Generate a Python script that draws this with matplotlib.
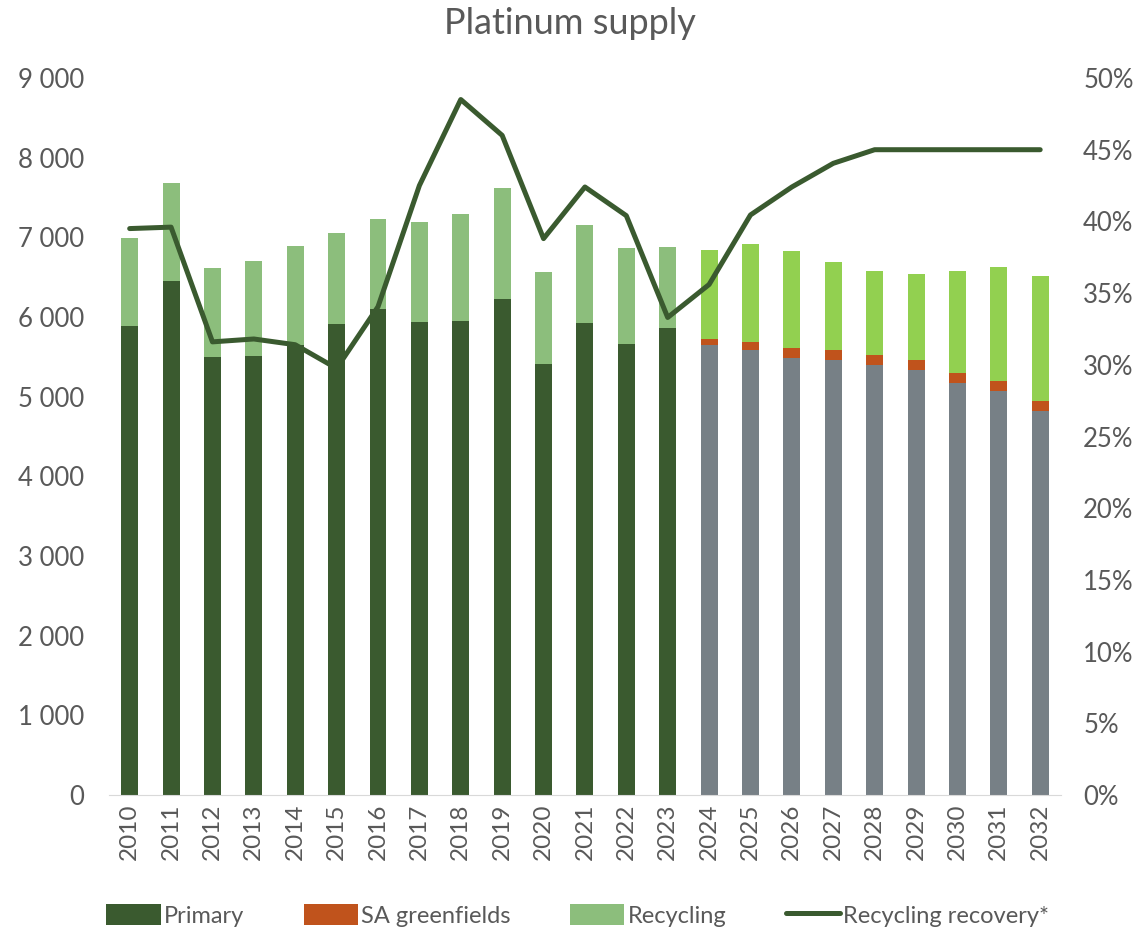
import matplotlib.pyplot as plt
from matplotlib.ticker import FuncFormatter, PercentFormatter
import numpy as np

# Platinum supply, koz, actuals to 2023 and outlook from 2024
years = [str(y) for y in range(2010, 2033)]
primary = [5890, 6455, 5500, 5510, 5650, 5910, 6100, 5940, 5950, 6230, 5410, 5920, 5660, 5860,
           5650, 5590, 5490, 5460, 5400, 5330, 5170, 5070, 4820]
sa_greenfields = [0] * 14 + [70, 100, 120, 130, 120, 130, 130, 130, 130]
recycling = [1100, 1225, 1110, 1190, 1240, 1150, 1130, 1250, 1340, 1390, 1160, 1230, 1200, 1020,
             1120, 1230, 1220, 1100, 1060, 1080, 1280, 1430, 1560]
recovery = [0.395, 0.396, 0.316, 0.318, 0.314, 0.2975, 0.3405, 0.425, 0.485, 0.460, 0.388, 0.424,
            0.404, 0.333, 0.356, 0.4045, 0.424, 0.4405, 0.45, 0.45, 0.45, 0.45, 0.45]
n_hist = 14

plt.rcParams['font.family'] = ['Lato', 'DejaVu Sans']
txt = '#595959'

dark_green = '#3A5A2F'
light_green = '#8CBE7C'
bright_green = '#92D050'
grey = '#778086'
orange = '#C0531C'

primary_col = [dark_green] * n_hist + [grey] * (len(years) - n_hist)
recycling_col = [light_green] * n_hist + [bright_green] * (len(years) - n_hist)

fig = plt.figure(figsize=(11.4, 9.32), dpi=100)
ax = fig.add_axes([0.0956, 0.147, 0.835, 0.7693])
x = np.arange(len(years))
w = 0.41

bottom2 = np.array(primary) + np.array(sa_greenfields)
b1 = ax.bar(x, primary, w, color=primary_col, label='Primary')
b2 = ax.bar(x, sa_greenfields, w, bottom=primary, color=orange, label='SA greenfields')
b3 = ax.bar(x, recycling, w, bottom=bottom2, color=recycling_col, label='Recycling')

ax.set_xlim(-0.5, len(years) - 0.5)
ax.set_ylim(0, 9000)
ax.set_yticks(range(0, 9001, 1000))
ax.yaxis.set_major_formatter(FuncFormatter(lambda v, p: f'{int(v):,}'.replace(',', ' ')))
ax.set_xticks(x)
ax.set_xticklabels(years, rotation=90)

ax2 = ax.twinx()
l1, = ax2.plot(x, recovery, color=dark_green, lw=3.6, solid_capstyle='round',
               solid_joinstyle='round', label='Recycling recovery*')
ax2.set_ylim(0, 0.5)
ax2.set_yticks(np.arange(0, 0.501, 0.05))
ax2.yaxis.set_major_formatter(PercentFormatter(1.0, decimals=0))

for a in (ax, ax2):
    for s in a.spines.values():
        s.set_visible(False)
    a.tick_params(length=0, labelsize=18.5, colors=txt)
ax.tick_params(axis='x', labelsize=17.5, pad=6)
ax.spines['bottom'].set_visible(True)
ax.spines['bottom'].set_color('#D9D9D9')
ax.tick_params(axis='y', pad=18)
ax2.tick_params(axis='y', pad=16)

fig.text(0.5, 0.975, 'Platinum supply', ha='center', va='center', fontsize=26,
         color=txt, fontweight='normal')

fig.legend(handles=[b1, b2, b3, l1], loc='center', bbox_to_anchor=(0.507, 0.018), ncol=4,
           frameon=False, fontsize=17, labelcolor=txt, handlelength=2.3, handleheight=1.0,
           columnspacing=2.5, handletextpad=0.15)

fig.savefig('out.png', dpi=100, facecolor='white')
